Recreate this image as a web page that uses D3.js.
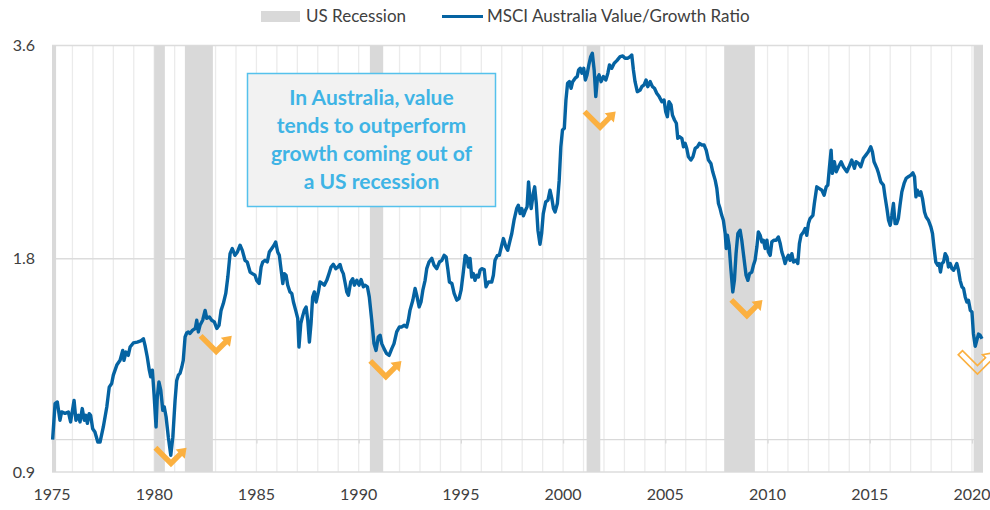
<!DOCTYPE html>
<html>
<head>
<meta charset="utf-8">
<script src="https://cdn.jsdelivr.net/npm/d3@7/dist/d3.min.js"></script>
<style>
  body { margin: 0; background: #fff; }
  text { font-family: Lato, "Open Sans", sans-serif; }
</style>
</head>
<body>
<div id="chart"></div>
<script>
// decimal year of each observation
const months = [
  1975.03,1975.15,1975.26,1975.39,1975.47,1975.64,1975.80,1975.91,
  1976.08,1976.17,1976.29,1976.37,1976.48,1976.58,1976.66,1976.73,1976.82,1976.89,1976.99,
  1977.10,1977.24,1977.35,1977.51,1977.68,1977.80,1977.92,
  1978.00,1978.17,1978.33,1978.46,1978.52,1978.62,1978.73,1978.82,1978.98,
  1979.17,1979.34,1979.47,1979.55,1979.66,1979.76,1979.83,1979.91,1979.99,
  1980.09,1980.15,1980.23,1980.32,1980.42,1980.49,1980.58,1980.69,1980.81,1980.91,
  1981.02,1981.10,1981.18,1981.26,1981.35,1981.42,1981.51,1981.59,1981.67,1981.75,1981.88,
  1982.01,1982.08,1982.16,1982.24,1982.37,1982.49,1982.57,1982.70,1982.81,1982.94,
  1983.06,1983.17,1983.27,1983.38,1983.50,1983.60,1983.71,1983.82,1983.95,
  1984.07,1984.20,1984.31,1984.44,1984.55,1984.69,1984.80,1984.93,
  1985.01,1985.13,1985.23,1985.31,1985.42,1985.53,1985.63,1985.75,1985.86,1985.94,
  1986.04,1986.12,1986.20,1986.29,1986.36,1986.45,1986.53,1986.64,1986.73,1986.81,1986.92,
  1987.02,1987.08,1987.17,1987.25,1987.34,1987.43,1987.51,1987.59,1987.67,1987.75,1987.83,1987.92,
  1988.03,1988.11,1988.22,1988.32,1988.44,1988.55,1988.65,1988.76,1988.88,1988.98,
  1989.09,1989.17,1989.25,1989.33,1989.42,1989.50,1989.61,1989.71,1989.79,1989.91,
  1990.02,1990.12,1990.23,1990.31,1990.43,1990.52,1990.64,1990.75,1990.85,1990.96,
  1991.05,1991.13,1991.24,1991.37,1991.49,1991.62,1991.73,1991.86,1991.99,
  1992.11,1992.22,1992.35,1992.43,1992.51,1992.65,1992.76,1992.84,1992.96,
  1993.05,1993.14,1993.25,1993.33,1993.44,1993.58,1993.69,1993.82,1993.95,
  1994.07,1994.18,1994.28,1994.36,1994.44,1994.56,1994.67,1994.80,1994.91,
  1995.01,1995.12,1995.21,1995.29,1995.37,1995.45,1995.53,1995.61,1995.69,1995.78,1995.86,1995.94,
  1996.02,1996.14,1996.23,1996.35,1996.51,1996.59,1996.67,1996.79,1996.88,
  1997.00,1997.08,1997.20,1997.29,1997.41,1997.49,1997.60,1997.73,1997.81,1997.90,1997.98,
  1998.06,1998.16,1998.24,1998.31,1998.37,1998.44,1998.54,1998.61,1998.69,1998.77,1998.87,1998.95,
  1999.03,1999.15,1999.26,1999.36,1999.45,1999.53,1999.61,1999.72,1999.81,1999.89,1999.97,
  2000.06,2000.14,2000.22,2000.31,2000.39,2000.47,2000.59,2000.69,2000.76,2000.84,2000.92,
  2001.01,2001.09,2001.17,2001.26,2001.35,2001.43,2001.52,2001.60,2001.68,2001.76,2001.86,2001.97,
  2002.09,2002.19,2002.27,2002.38,2002.50,2002.63,2002.79,2002.92,
  2003.03,2003.17,2003.28,2003.36,2003.44,2003.52,2003.63,2003.77,2003.85,2003.96,
  2004.06,2004.14,2004.26,2004.37,2004.47,2004.58,2004.70,2004.83,2004.94,
  2005.02,2005.10,2005.18,2005.28,2005.35,2005.45,2005.54,2005.61,2005.69,2005.81,2005.89,2005.97,
  2006.05,2006.13,2006.25,2006.35,2006.46,2006.57,2006.67,2006.79,2006.90,
  2007.00,2007.11,2007.23,2007.32,2007.44,2007.52,2007.60,2007.68,2007.76,2007.84,2007.93,2007.98,
  2008.04,2008.12,2008.20,2008.30,2008.38,2008.46,2008.55,2008.66,2008.74,2008.82,2008.95,
  2009.04,2009.12,2009.23,2009.31,2009.39,2009.48,2009.55,2009.64,2009.72,2009.80,2009.88,2009.97,
  2010.04,2010.13,2010.21,2010.32,2010.42,2010.53,2010.62,2010.70,2010.78,2010.86,2010.94,
  2011.02,2011.10,2011.19,2011.27,2011.40,2011.48,2011.56,2011.64,2011.76,2011.84,2011.92,
  2012.00,2012.08,2012.22,2012.29,2012.41,2012.52,2012.66,2012.77,2012.87,2012.95,
  2013.03,2013.11,2013.17,2013.27,2013.36,2013.47,2013.60,2013.71,2013.88,2013.99,
  2014.12,2014.25,2014.33,2014.45,2014.56,2014.69,2014.81,2014.93,
  2015.05,2015.13,2015.21,2015.35,2015.43,2015.54,2015.67,2015.75,2015.84,2015.92,
  2016.00,2016.08,2016.16,2016.24,2016.32,2016.40,2016.48,2016.57,2016.68,2016.78,2016.89,
  2017.01,2017.11,2017.19,2017.26,2017.33,2017.42,2017.50,2017.58,2017.68,2017.76,2017.87,2017.99,
  2018.07,2018.15,2018.23,2018.33,2018.39,2018.46,2018.53,2018.61,2018.69,2018.78,2018.85,2018.94,
  2019.02,2019.10,2019.18,2019.26,2019.34,2019.42,2019.51,2019.59,2019.67,2019.75,2019.83,2019.92,
  2020.00,2020.07,2020.16,2020.24,2020.32,2020.40,2020.49
];

// MSCI Australia Value / Growth ratio
const ratio = [
  1.00,1.124,1.13,1.065,1.094,1.089,1.094,1.059,
  1.136,1.065,1.082,1.059,1.106,1.065,1.082,1.054,1.088,1.082,1.036,
  1.025,0.992,0.992,1.042,1.112,1.186,1.20,
  1.233,1.274,1.294,1.336,1.294,1.329,1.315,1.351,1.369,
  1.373,1.378,1.388,1.358,1.308,1.253,1.226,1.253,1.161,
  1.042,1.148,1.206,1.174,1.10,1.112,1.077,1.008,0.95,1.008,
  1.136,1.212,1.233,1.24,1.266,1.294,1.396,1.414,1.419,1.412,1.427,
  1.435,1.474,1.419,1.45,1.474,1.522,1.483,1.49,1.474,1.466,
  1.435,1.45,1.522,1.556,1.608,1.696,1.83,1.861,1.82,
  1.84,1.881,1.85,1.791,1.781,1.724,1.715,1.706,
  1.678,1.661,1.752,1.781,1.791,1.781,1.84,1.861,1.881,1.901,
  1.84,1.82,1.743,1.661,1.715,1.706,1.652,1.616,1.608,1.564,1.522,
  1.483,1.351,1.458,1.49,1.522,1.539,1.474,1.373,1.458,1.59,1.616,1.564,
  1.616,1.669,1.661,1.652,1.678,1.715,1.752,1.768,1.743,1.752,
  1.767,1.734,1.715,1.669,1.616,1.599,1.669,1.687,1.652,1.678,
  1.652,1.682,1.643,1.652,1.643,1.59,1.474,1.366,1.336,1.396,
  1.404,1.366,1.344,1.322,1.315,1.344,1.366,1.419,1.442,
  1.442,1.45,1.442,1.474,1.522,1.573,1.634,1.599,1.539,
  1.564,1.625,1.678,1.743,1.781,1.802,1.762,1.743,1.781,
  1.791,1.82,1.81,1.743,1.669,1.661,1.608,1.573,1.581,
  1.625,1.724,1.82,1.81,1.752,1.802,1.696,1.715,1.678,1.706,1.696,1.734,
  1.743,1.738,1.643,1.669,1.669,1.706,1.791,1.82,1.82,
  1.881,1.922,1.871,1.85,1.912,1.954,2.04,2.119,2.142,2.085,2.119,
  2.07,2.108,2.131,2.311,2.201,2.119,2.226,2.274,2.154,1.975,1.887,1.954,
  2.085,2.165,2.177,2.249,2.189,2.119,2.096,2.154,2.324,2.59,2.735,
  2.75,3.016,3.184,3.201,3.133,3.201,3.237,3.254,3.325,3.343,3.29,
  3.343,3.218,3.272,3.38,3.472,3.511,3.325,3.049,3.237,3.272,3.201,3.254,
  3.218,3.29,3.38,3.343,3.398,3.427,3.472,3.479,
  3.454,3.454,3.472,3.491,3.325,3.201,3.098,3.115,3.149,3.167,
  3.218,3.149,3.201,3.149,3.133,3.082,3.049,2.999,3.016,
  2.903,2.856,2.999,2.967,2.871,2.826,2.796,2.662,2.676,2.662,2.59,2.619,
  2.576,2.507,2.481,2.507,2.576,2.59,2.619,2.605,2.605,
  2.562,2.481,2.454,2.388,2.324,2.263,2.154,2.119,2.073,2.04,1.954,1.861,
  1.943,1.881,1.752,1.616,1.678,1.83,1.954,1.975,1.912,1.83,1.706,
  1.678,1.715,1.724,1.762,1.791,1.871,1.964,1.943,1.901,1.912,1.861,1.912,
  1.84,1.82,1.901,1.912,1.912,1.932,1.891,1.84,1.81,1.772,1.802,
  1.82,1.791,1.83,1.781,1.791,1.772,1.891,1.943,1.964,1.986,1.943,
  2.018,2.051,2.073,2.154,2.274,2.263,2.249,2.213,2.274,2.287,
  2.427,2.562,2.376,2.467,2.388,2.427,2.467,2.427,2.388,2.427,
  2.481,2.415,2.467,2.454,2.427,2.495,2.521,2.548,
  2.59,2.548,2.467,2.415,2.376,2.311,2.287,2.201,2.119,2.04,
  2.007,2.073,2.154,2.018,2.018,2.051,2.142,2.237,2.299,2.337,2.35,
  2.362,2.38,2.35,2.201,2.249,2.213,2.237,2.189,2.096,2.062,2.04,1.996,
  1.954,1.861,1.781,1.762,1.772,1.724,1.772,1.781,1.83,1.81,1.752,1.772,
  1.743,1.734,1.752,1.772,1.734,1.678,1.643,1.634,1.59,1.564,1.573,1.522,
  1.514,1.412,1.354,1.382,1.409,1.404,1.388
];

// US recessions (start, end) in decimal years
const recessionStart = [1973.83, 1980.00, 1981.50, 1990.55, 2001.15, 2007.88, 2020.08];
const recessionEnd   = [1975.20, 1980.52, 1982.87, 1991.20, 2001.82, 2009.38, 2021.00];

const xTicks = [1975, 1980, 1985, 1990, 1995, 2000, 2005, 2010, 2015, 2020];
const yTicks = [0.9, 1.8, 3.6];

// orange "value rebound" arrows: bottom point of each chevron
const arrowYear  = [1980.82, 1983.03, 1991.33, 2001.81, 2008.99, 2020.27];
const arrowValue = [0.914, 1.315, 1.212, 2.726, 1.478, 1.237];
const arrowOpen  = [false, false, false, false, false, true];

const noteLines = ["In Australia, value", "tends to outperform", "growth coming out of", "a US recession"];
const legendLabels = ["US Recession", "MSCI Australia Value/Growth Ratio"];

const width = 990, height = 510;
const plotLeft = 52, plotRight = 983, plotTop = 45.5, plotBottom = 472;
const xEnd = 2020.54;

const c_line = "#0563a2";
const c_rec = "#d9d9d9";
const c_orange = "#fbb040";
const c_note = "#3fb4e5";
const c_text = "#404040";

const svg = d3.select("#chart").append("svg")
  .attr("width", width)
  .attr("height", height)
  .style("background", "#fff");

const x = d3.scaleLinear().domain([1975, xEnd]).range([plotLeft, plotRight]);
const y = d3.scaleLog().domain([0.9, 3.6]).range([plotBottom, plotTop]);

// yearly vertical gridlines
svg.append("g")
  .selectAll("line")
  .data(d3.range(1976, 2021))
  .enter().append("line")
  .attr("x1", d => x(d)).attr("x2", d => x(d))
  .attr("y1", plotTop).attr("y2", plotBottom)
  .attr("stroke", "#ebebeb")
  .attr("stroke-width", 1.3);

// horizontal gridlines
svg.append("g")
  .selectAll("line")
  .data(yTicks)
  .enter().append("line")
  .attr("x1", plotLeft).attr("x2", plotRight)
  .attr("y1", d => y(d)).attr("y2", d => y(d))
  .attr("stroke", "#dcdcdc")
  .attr("stroke-width", 1.3);

// x axis crosses at 1.0
const xAxis = d3.axisBottom(x)
  .tickValues(xTicks)
  .tickSize(4)
  .tickFormat("");
const gx = svg.append("g")
  .attr("transform", "translate(0," + y(1.0) + ")")
  .call(xAxis);
gx.select(".domain").attr("stroke", "#d9d9d9").attr("stroke-width", 1.3)
  .attr("d", "M" + plotLeft + ",0H" + plotRight);
gx.selectAll(".tick line").attr("stroke", "#d9d9d9").attr("stroke-width", 1.3);

// recession bands
const recessions = recessionStart.map((s, i) => ({ start: s, end: recessionEnd[i] }));
svg.append("g")
  .selectAll("rect")
  .data(recessions)
  .enter().append("rect")
  .attr("x", d => x(Math.max(d.start, 1975)))
  .attr("width", d => x(Math.min(d.end, xEnd)) - x(Math.max(d.start, 1975)))
  .attr("y", plotTop)
  .attr("height", plotBottom - plotTop)
  .attr("fill", c_rec);

// tick labels
svg.append("g")
  .selectAll("text")
  .data(xTicks)
  .enter().append("text")
  .attr("x", d => x(d))
  .attr("y", 500)
  .attr("text-anchor", "middle")
  .attr("font-size", 16)
  .attr("fill", c_text)
  .text(d => d);

svg.append("g")
  .selectAll("text")
  .data(yTicks)
  .enter().append("text")
  .attr("x", 35)
  .attr("y", d => y(d))
  .attr("dy", "0.35em")
  .attr("text-anchor", "end")
  .attr("font-size", 16)
  .attr("fill", c_text)
  .text(d => d.toFixed(1));

// ratio line
const series = months.map((t, i) => ({ t: t, v: ratio[i] }));
const line = d3.line()
  .x(d => x(d.t))
  .y(d => y(d.v));

svg.append("path")
  .datum(series)
  .attr("d", line)
  .attr("fill", "none")
  .attr("stroke", c_line)
  .attr("stroke-width", 3.4)
  .attr("stroke-linejoin", "round");

// chevron arrows (check mark with arrow head)
const chevron = "M-13.6,-21.4L-17.5,-17.6L0,0L11.1,-11.2L13.8,-8.5L15.6,-19.5L4.6,-17.7L7.3,-15L0,-7.8Z";
const arrows = arrowYear.map((t, i) => ({ t: t, v: arrowValue[i], open: arrowOpen[i] }));
svg.append("g")
  .selectAll("path")
  .data(arrows)
  .enter().append("path")
  .attr("transform", d => "translate(" + x(d.t) + "," + y(d.v) + ")" + (d.open ? " scale(1.1)" : ""))
  .attr("d", chevron)
  .attr("fill", d => d.open ? "none" : c_orange)
  .attr("stroke", d => d.open ? c_orange : "none")
  .attr("stroke-width", 1.5)
  .attr("stroke-linejoin", "miter");

// annotation box
const note = svg.append("g");
note.append("rect")
  .attr("x", 247.5).attr("y", 73.5)
  .attr("width", 248).attr("height", 133)
  .attr("fill", "#f2f2f2")
  .attr("stroke", "#55c1ec")
  .attr("stroke-width", 1.5);
note.selectAll("text")
  .data(noteLines)
  .enter().append("text")
  .attr("x", 371.5)
  .attr("y", (d, i) => 105 + i * 28)
  .attr("text-anchor", "middle")
  .attr("font-size", 21)
  .attr("font-weight", "bold")
  .attr("fill", c_note)
  .text(d => d);

// legend
const legend = svg.append("g");
legend.append("rect")
  .attr("x", 261).attr("y", 11)
  .attr("width", 39).attr("height", 11)
  .attr("fill", c_rec);
legend.append("text")
  .attr("x", 306).attr("y", 16.5).attr("dy", "0.35em")
  .attr("font-size", 17).attr("fill", c_text)
  .text(legendLabels[0]);
legend.append("line")
  .attr("x1", 442).attr("x2", 483)
  .attr("y1", 16.5).attr("y2", 16.5)
  .attr("stroke", c_line).attr("stroke-width", 3);
legend.append("text")
  .attr("x", 487).attr("y", 16.5).attr("dy", "0.35em")
  .attr("font-size", 17).attr("fill", c_text)
  .text(legendLabels[1]);
</script>
</body>
</html>
